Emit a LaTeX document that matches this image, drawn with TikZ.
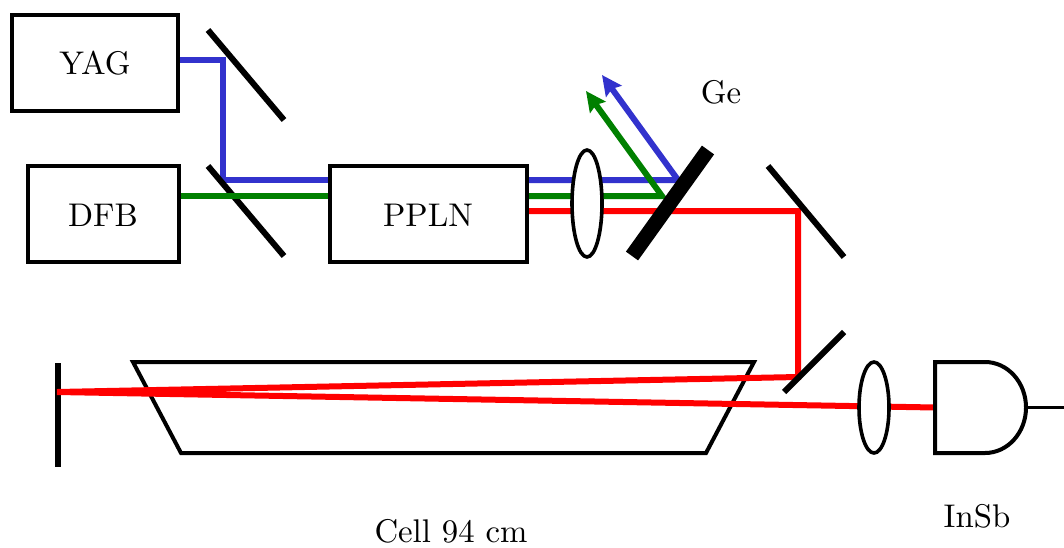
\documentclass[tikz,border=0pt]{standalone}
\usetikzlibrary{arrows.meta,shapes.geometric}
\definecolor{beamblue}{RGB}{50,50,205}
\definecolor{beamgreen}{RGB}{0,128,0}
\definecolor{beamred}{RGB}{255,0,0}
\tikzset{
  x=1pt,y=-1pt,
  box/.style={draw=black,line width=4pt,fill=white,inner sep=0pt,minimum width=#1,minimum height=96pt},
  lens/.style={draw=black,line width=3.6pt,fill=white,ellipse,inner sep=0pt},
  mirror/.style={draw=black,line width=6pt},
  beam/.style={line width=6pt,line join=miter},
  head/.style={-{Stealth[length=20pt,width=19pt,inset=3pt]}},
  lbl/.style={inner sep=0pt,scale=3.28,transform shape},
}
\begin{document}
\begin{tikzpicture}
\useasboundingbox (0,0) rectangle (1064,547);
% free points
\coordinate (m1a) at (208,30); \coordinate (m1b) at (284,120);
\coordinate (m2a) at (208,166); \coordinate (m2b) at (284,256);
\coordinate (m3a) at (768,166); \coordinate (m3b) at (844,257);
\coordinate (m4a) at (784,392); \coordinate (m4b) at (844,332);
\coordinate (m5a) at (57.5,363); \coordinate (m5b) at (57.5,467);
\coordinate (gea) at (632,256); \coordinate (geb) at (708,150);
\coordinate (yagout) at (178,60); \coordinate (bl1) at (223,60); \coordinate (bl2) at (223,180);
\coordinate (dfbout) at (178,196);
\coordinate (pbin) at (330,180); \coordinate (pgin) at (330,196);
\coordinate (pbout) at (526,180); \coordinate (pgout) at (526,196); \coordinate (prout) at (526,211);
\coordinate (bhit) at (678,180); \coordinate (btip) at (602,75);
\coordinate (ghit) at (662,196); \coordinate (gtip) at (586,91);
\coordinate (r1) at (798,211); \coordinate (r2) at (798,377);
\coordinate (r3) at (57,392); \coordinate (detin) at (935,407.5);
\coordinate (detout) at (1026,407.5); \coordinate (detend) at (1064,407.5);
% far mirror and cell, under the beam
\draw[mirror] (m5a) -- (m5b);
\draw[line width=4pt,line join=miter] (133,362) coordinate (c1) -- (754,362) -- (706,453) -- (181,453) -- cycle;
% beams under the mirrors
\draw[beam,beamblue] (yagout) -- (bl1) -- (bl2) -- (pbin);
\draw[beam,beamblue,head] (pbout) -- (bhit) -- (btip);
\draw[beam,beamred] (prout) -- (r1) -- (r2) -- (r3) -- (detin);
% mirrors
\draw[mirror] (m1a) -- (m1b);
\draw[mirror] (m2a) -- (m2b);
\draw[mirror] (m3a) -- (m3b);
\draw[mirror] (m4a) -- (m4b);
% green beam over the mirrors
\draw[beam,beamgreen] (dfbout) -- (pgin);
\draw[beam,beamgreen,head] (pgout) -- (ghit) -- (gtip);
% Ge plate
\draw[draw=black,line width=15pt] (gea) -- (geb);
% boxes
\node[box=166pt] (yag) at (95,62.5) {};
\node[box=151pt] (dfb) at (103,213.5) {};
\node[box=197pt] (ppln) at (428.5,213.5) {};
\node[lbl] (yaglbl) at (95,63) {YAG};
\node[lbl] (dfblbl) at (103,215) {DFB};
\node[lbl] (pplnlbl) at (428,215) {PPLN};
% lenses
\node[lens,minimum width=30pt,minimum height=107pt] (lens1) at (587,203.5) {};
\node[lens,minimum width=30pt,minimum height=91pt] (lens2) at (874,407.5) {};
% detector
\draw[line width=4pt,fill=white,line join=miter] (935,362) -- (985,362) arc[start angle=90,end angle=-90,x radius=41pt,y radius=45.5pt] -- (935,453) -- cycle;
\draw[line width=3pt] (detout) -- (detend);
% labels
\node[lbl] (ge) at (721,92) {Ge};
\node[lbl] (insb) at (977,516) {InSb};
\node[lbl] (cell) at (451,531) {Cell 94 cm};
\end{tikzpicture}
\end{document}
